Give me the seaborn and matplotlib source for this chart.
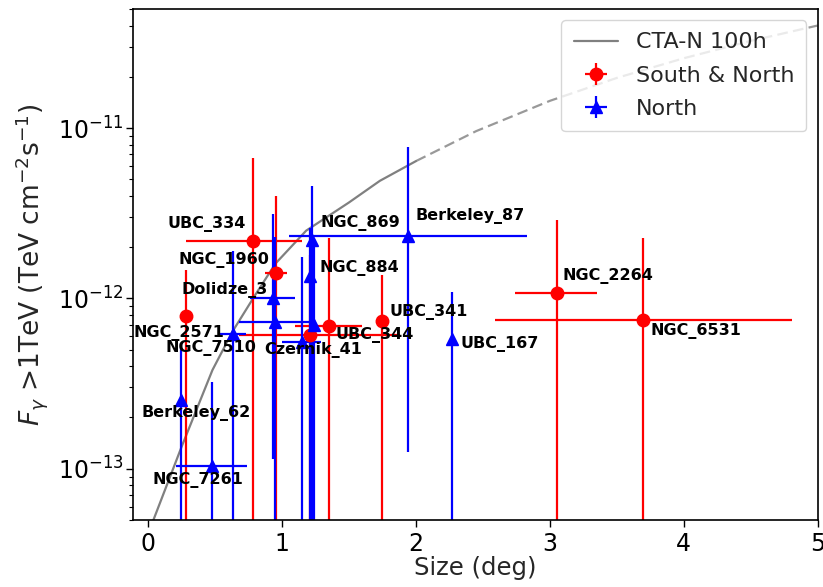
import matplotlib
matplotlib.use("Agg")
import matplotlib.pyplot as plt
import seaborn as sns

# CTA-North 100 h sensitivity against source extension (solid: computed range, dashed: extrapolation)
cta_size = [0.03, 0.25, 0.48, 0.63, 0.80, 0.95, 1.18, 1.50, 1.73, 2.00]
cta_flux = [4.8e-14, 1.35e-13, 3.8e-13, 6.4e-13, 1.05e-12, 1.6e-12, 2.5e-12, 3.66e-12, 4.9e-12, 6.4e-12]
cta_size_ext = [2.00, 2.45, 3.00, 3.50, 4.00, 4.50, 5.00]
cta_flux_ext = [6.4e-12, 9.6e-12, 1.445e-11, 1.97e-11, 2.57e-11, 3.25e-11, 4.0e-11]

# Clusters visible from both hemispheres
sn_names = ["UBC_334", "NGC_1960", "NGC_2571", "UBC_344", "Czernik_41", "UBC_341", "NGC_2264", "NGC_6531"]
sn_size = [0.78, 0.955, 0.28, 1.35, 1.21, 1.75, 3.05, 3.695]
sn_size_lo = [0.28, 0.87, 0.28, 1.10, 0.68, 1.75, 2.74, 2.59]
sn_size_hi = [1.15, 1.04, 0.28, 1.60, 1.88, 1.75, 3.35, 4.81]
sn_flux = [2.17e-12, 1.41e-12, 7.9e-13, 6.9e-13, 6.07e-13, 7.33e-13, 1.07e-12, 7.5e-13]
sn_flux_lo = [1e-15, 1e-15, 1e-15, 1e-15, 1e-15, 1e-15, 1e-15, 1e-15]
sn_flux_hi = [6.7e-12, 4.0e-12, 1.47e-12, 2.27e-12, 1.8e-12, 1.38e-12, 2.89e-12, 2.27e-12]

# Clusters visible from the north only
n_names = ["NGC_869", "Berkeley_87", "NGC_884", "Dolidze_3", "", "NGC_7510", "", "", "UBC_167", "Berkeley_62", "NGC_7261"]
n_size = [1.22, 1.94, 1.21, 0.935, 0.947, 0.63, 1.15, 1.235, 2.27, 0.245, 0.476]
n_size_lo = [1.22, 1.05, 1.21, 0.76, 0.68, 0.53, 1.00, 1.235, 2.27, 0.245, 0.21]
n_size_hi = [1.22, 2.83, 1.21, 1.10, 1.25, 0.73, 1.29, 1.235, 2.27, 0.245, 0.735]
n_flux = [2.2e-12, 2.34e-12, 1.36e-12, 1.0e-12, 7.26e-13, 6.15e-13, 5.55e-13, 7.0e-13, 5.81e-13, 2.52e-13, 1.04e-13]
n_flux_lo = [1e-15, 1.25e-13, 1e-15, 1.14e-13, 1e-15, 1e-15, 1e-15, 1e-15, 1e-15, 1e-15, 1e-15]
n_flux_hi = [4.6e-12, 7.7e-12, 2.6e-12, 3.13e-12, 2.3e-12, 1.89e-12, 1.75e-12, 2.0e-12, 1.09e-12, 5.44e-13, 3.23e-13]

# label placement relative to each marker, in pixels (dx, dy)
label_offsets = {
    "UBC_334": (-85, 17), "NGC_1960": (-98, 13), "NGC_2571": (-52, -17),
    "UBC_344": (7, -9), "Czernik_41": (-46, -15), "UBC_341": (7, 9),
    "NGC_2264": (6, 17), "NGC_6531": (8, -11),
    "NGC_869": (9, 17), "Berkeley_87": (8, 20), "NGC_884": (9, 8),
    "Dolidze_3": (-92, 8), "NGC_7510": (-67, -14), "UBC_167": (8, -5),
    "Berkeley_62": (-40, -13), "NGC_7261": (-59, -14),
}

sns.set_style("ticks", {"axes.edgecolor": "black", "xtick.color": "black", "ytick.color": "black"})
plt.rcParams["font.family"] = ["DejaVu Sans"]
plt.rcParams["mathtext.fontset"] = "dejavusans"

fig = plt.figure(figsize=(8.23, 5.87), dpi=100)
ax = fig.add_axes([0.1622, 0.1141, 0.8312, 0.8705])
ax.set_yscale("log")

sns.lineplot(x=cta_size, y=cta_flux, color="gray", lw=1.6, ax=ax, label="CTA-N 100h", legend=False)
sns.lineplot(x=cta_size_ext, y=cta_flux_ext, color="gray", lw=1.6, alpha=0.8,
             dashes=False, ax=ax, legend=False, linestyle=(0, (4.8, 2.4)))
cta_handle = ax.lines[0]


def draw_group(size, lo_x, hi_x, flux, lo_y, hi_y, color, marker, ms, label):
    xerr = [[s - l for s, l in zip(size, lo_x)], [h - s for s, h in zip(size, hi_x)]]
    yerr = [[f - l for f, l in zip(flux, lo_y)], [h - f for f, h in zip(flux, hi_y)]]
    return ax.errorbar(size, flux, xerr=xerr, yerr=yerr, fmt=marker, color=color,
                       ecolor=color, ms=ms, elinewidth=1.6, capsize=0, label=label)


sn_handle = draw_group(sn_size, sn_size_lo, sn_size_hi, sn_flux, sn_flux_lo, sn_flux_hi,
                       "red", "o", 9, "South & North")
n_handle = draw_group(n_size, n_size_lo, n_size_hi, n_flux, n_flux_lo, n_flux_hi,
                      "blue", "^", 8.5, "North")

for names, xs, ys in ((sn_names, sn_size, sn_flux), (n_names, n_size, n_flux)):
    for name, x, y in zip(names, xs, ys):
        if not name:
            continue
        dx, dy = label_offsets[name]
        ax.annotate(name, (x, y), xytext=(dx, dy), textcoords="offset pixels",
                    ha="left", va="center", fontsize=11.5, fontweight="bold", color="black", zorder=10)

ax.set_xlim(-0.11, 5.0)
ax.set_ylim(5e-14, 5e-11)
ax.set_xticks([0, 1, 2, 3, 4, 5])
ax.tick_params(axis="both", which="major", labelsize=17, length=5, width=1)
ax.tick_params(axis="y", which="major", pad=2)
ax.tick_params(axis="y", which="minor", length=3, width=0.8)
for sp in ax.spines.values():
    sp.set_linewidth(1.2)
    sp.set_color("black")

ax.set_xlabel("Size (deg)", fontsize=17.5, labelpad=0)
ax.set_ylabel(r"$F_{\gamma}$ >1TeV (TeV cm$^{-2}$s$^{-1}$)", fontsize=19, labelpad=6)

ax.legend([cta_handle, sn_handle, n_handle], ["CTA-N 100h", "South & North", "North"],
          loc="upper right", fontsize=16, labelspacing=0.6, borderpad=0.55)

fig.savefig("out.png", dpi=100)
